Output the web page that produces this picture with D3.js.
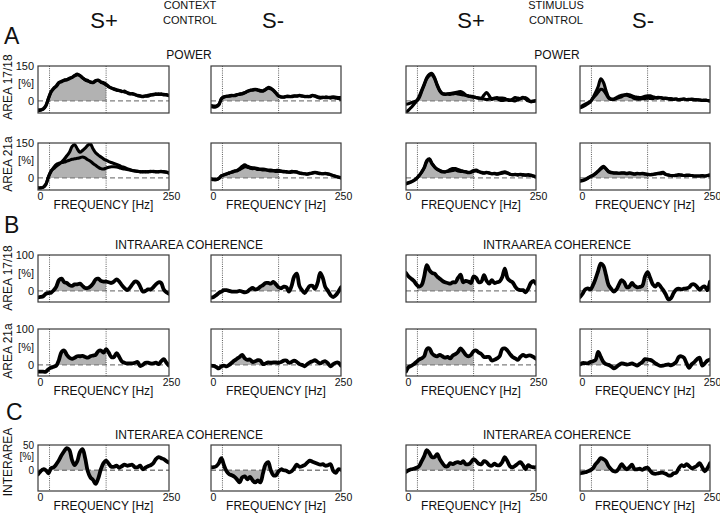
<!DOCTYPE html>
<html><head><meta charset="utf-8">
<script src="https://cdn.jsdelivr.net/npm/d3@7/dist/d3.min.js"></script>
<style>
body{margin:0;background:#fff}
svg{display:block;font-family:"Liberation Sans",Arial,Helvetica,sans-serif}
</style>
</head><body>
<svg id="chart" width="720" height="513"></svg>
<script>
// ---------------- DATA ----------------
const freq = [0,5,10,15,20,25,30,35,40,45,50,55,60,65,70,75,80,85,90,95,100,105,110,115,120,125,130,135,140,145,150,155,160,165,170,175,180,185,190,195,200,205,210,215,220,225,230,235,240,245,250];
const bandLow = 22, bandHigh = 130;

// Power, area 17/18
const powA1718CtxSplusA = [-38,-38,-36,-22,10,38,55,62,78,85,88,92,95,102,110,115,108,100,90,85,82,78,85,90,82,78,72,62,55,52,48,45,40,42,35,30,32,28,22,20,18,22,20,25,28,30,28,30,28,27,24];
const powA1718CtxSplusB = [-42,-40,-34,-20,12,40,52,65,80,82,90,90,98,100,108,112,110,98,92,88,80,80,88,88,80,75,68,60,56,50,46,44,42,38,36,32,30,26,24,22,20,20,24,26,26,28,30,28,26,25,22];
const powA1718CtxSminusA = [-25,-27,-25,-18,10,18,20,20,22,24,27,28,32,36,40,45,48,50,48,45,44,50,58,55,46,35,22,18,17,18,18,20,22,20,24,22,18,20,18,22,20,15,12,14,17,16,12,14,12,10,6];
const powA1718CtxSminusB = [-20,-22,-22,-15,8,16,20,22,24,22,26,30,30,34,42,46,46,48,46,42,42,48,55,52,44,32,20,16,16,20,20,18,20,22,22,20,20,18,20,24,22,18,16,16,14,14,16,18,16,14,15];
const powA1718StimSplusA = [-50,-40,-28,-15,-2,18,45,72,100,114,118,100,70,45,32,30,30,32,34,36,38,40,35,25,22,20,18,15,12,12,25,36,22,6,10,14,12,12,10,4,2,8,14,12,10,12,14,6,-4,-2,0];
const powA1718StimSplusB = [-14,-12,-8,-4,0,12,40,68,95,110,112,95,66,42,30,28,30,28,30,32,30,28,26,24,20,18,16,14,12,10,8,6,8,10,12,10,4,2,4,6,4,2,0,4,10,16,8,0,-2,0,2];
const powA1718StimSminusA = [-30,-26,-20,-12,-4,14,36,62,95,80,45,16,8,6,10,14,18,24,28,26,22,18,16,14,16,20,22,22,18,14,12,14,10,12,10,10,8,8,6,7,8,6,7,8,6,5,4,3,4,2,0];
const powA1718StimSminusB = [-28,-20,-14,-8,-2,12,24,38,50,46,30,12,6,8,14,20,24,26,24,20,16,10,8,8,10,10,12,10,10,14,16,14,12,10,8,6,6,8,4,6,8,5,6,6,4,5,4,2,2,2,0];

// Power, area 21a
const powA21CtxSplusA = [-43,-43,-40,-28,5,30,40,50,58,68,80,95,110,135,142,125,110,118,128,140,146,125,108,98,90,82,76,70,66,62,58,54,48,45,40,36,32,30,28,26,27,26,27,28,27,26,27,28,26,24,20];
const powA21CtxSplusB = [-43,-43,-40,-28,5,28,45,58,63,66,68,72,76,80,82,84,87,90,86,78,72,62,54,46,40,38,42,46,48,48,47,44,40,38,36,34,32,30,28,27,26,27,26,27,28,27,26,27,27,25,21];
const powA21CtxSminusA = [-5,-8,-8,-3,10,12,16,22,24,28,32,40,50,56,50,46,44,42,40,38,38,36,34,34,32,32,33,30,28,27,25,28,27,26,22,20,18,17,20,22,24,22,20,18,20,18,14,10,6,3,0];
const powA21CtxSminusB = [-3,-6,-6,-2,8,14,18,20,26,30,30,36,42,48,46,42,40,40,36,36,34,34,32,30,30,28,28,28,26,25,24,24,26,24,20,18,18,16,18,20,22,20,18,18,18,16,14,10,7,4,1];
const powA21StimSplusA = [-26,-22,-18,-12,-4,8,25,45,75,82,62,48,38,32,28,26,30,36,40,40,36,32,28,26,24,26,32,34,28,24,22,24,22,18,20,18,20,24,26,22,16,14,16,14,16,14,12,14,12,8,4];
const powA21StimSplusB = [-24,-20,-16,-10,-2,10,24,42,70,80,60,46,36,30,26,26,28,30,32,34,30,28,28,26,22,24,28,30,26,22,20,22,20,18,18,16,18,20,22,20,16,14,14,12,14,12,12,12,10,8,5];
const powA21StimSminusA = [-14,-12,-8,-2,6,12,20,30,42,50,40,28,24,22,22,20,22,22,20,22,20,18,20,18,20,18,16,14,16,18,20,22,24,16,12,10,10,12,14,12,10,12,12,10,8,8,8,10,8,10,12];
const powA21StimSminusB = [-12,-10,-6,0,6,10,18,28,38,46,38,26,22,20,20,20,20,20,18,20,18,16,18,18,18,16,14,14,14,16,18,18,20,14,12,10,10,10,12,12,10,10,10,10,8,8,8,8,8,10,12];

// Intraarea coherence
const cohA1718CtxSplus = [-18,-17,-15,-8,-6,-5,2,12,30,34,24,22,16,14,18,18,20,14,8,8,12,20,32,34,28,26,26,24,22,26,32,26,16,8,2,8,18,26,24,12,-2,0,4,4,10,18,24,22,4,-4,-8];
const cohA1718CtxSminus = [-19,-17,-12,-6,-2,2,2,0,-2,-2,-2,0,-2,-4,-2,4,8,4,6,12,16,22,22,20,25,18,10,7,12,10,-2,14,40,48,14,2,-6,4,14,14,6,22,50,36,10,0,-12,-17,-12,-2,10];
const cohA1718StimSplus = [50,40,34,28,18,12,16,40,72,58,50,48,40,34,28,24,22,20,24,24,36,45,24,28,26,22,40,36,24,26,44,28,20,30,22,24,26,38,62,36,28,24,12,4,2,2,-4,6,22,28,20];
const cohA1718StimSminus = [-17,-8,4,7,4,16,34,56,76,70,44,16,6,-2,4,18,30,24,10,12,22,14,10,11,14,40,52,36,18,12,20,12,2,-10,-24,-20,-6,4,6,4,6,7,10,18,18,11,3,10,12,2,26];
const cohA21CtxSplus = [-19,-19,-19,-19,-12,-8,-5,-2,14,36,40,28,20,17,20,24,24,25,22,20,24,26,28,38,40,34,44,34,22,22,33,22,10,6,4,4,4,6,8,-3,0,6,6,4,4,6,2,10,16,6,-2];
const cohA21CtxSminus = [-2,-3,-6,-10,-4,-2,-4,0,6,12,17,22,28,18,14,15,8,10,13,12,2,4,7,6,7,7,6,8,12,12,6,8,12,8,2,0,-4,2,7,10,13,8,4,8,10,4,-4,2,6,6,-2];
const cohA21StimSplus = [-18,-6,-3,2,8,15,18,24,44,46,32,26,24,28,24,20,22,18,26,30,36,46,38,28,24,28,38,40,34,30,22,22,22,12,14,18,24,44,46,40,30,22,18,14,22,28,24,26,26,22,17];
const cohA21StimSminus = [1,5,5,4,8,10,14,36,22,8,2,0,-4,-10,-6,0,4,3,1,2,4,1,-2,3,8,16,15,14,10,4,0,-3,-2,0,1,-1,2,8,22,24,20,4,-8,2,8,16,20,-2,4,12,15];

// Interarea coherence
const interCtxSplus = [-8,-2,2,0,-6,4,6,12,20,30,38,44,40,20,10,18,36,42,24,-2,-14,-19,-27,-16,2,14,19,13,7,7,9,5,8,11,9,10,11,6,6,9,2,5,8,10,14,22,26,24,22,18,15];
const interCtxSminus = [6,6,8,14,24,10,-2,-8,-10,-13,-18,-24,-14,-12,-18,-13,-20,-24,-20,-24,-6,12,16,0,-10,-10,-2,2,0,-1,-4,-2,4,11,7,8,10,15,19,17,15,13,11,12,9,10,12,-1,-5,2,1];
const interStimSplus = [-3,0,2,3,5,8,18,28,40,34,26,26,32,22,14,8,8,14,12,15,16,14,18,12,12,16,22,18,13,12,18,16,10,9,13,10,10,16,26,18,8,6,9,13,16,10,2,10,7,6,6];
const interStimSminus = [-6,-5,-4,-2,0,4,12,18,24,22,18,8,2,-2,-2,4,12,6,2,6,11,2,2,3,1,4,5,-1,-6,-7,-6,-5,-5,-7,-10,-10,-6,-5,4,10,8,12,8,4,6,9,14,6,-2,4,14];

// Axis tick labels
const powerTickValues = [150, 75, 0];
const powerTickText = ["150", "[%]", "0"];
const intraTickValues = [100, 50, 0];
const intraTickText = ["100", "[%]", "0"];
const interTickValues = [50, 27, 0];
const interTickText = ["50", "[%]", "0"];
const freqTickValues = [0, 250];
const freqTickText = ["0", "250"];
const freqLabel = "FREQUENCY [Hz]";

const rowLabels = ["AREA 17/18", "AREA 21a", "AREA 17/18", "AREA 21a", "INTERAREA"];
const sectionLetters = ["A", "B", "C"];
const sectionTitles = ["POWER", "INTRAAREA COHERENCE", "INTERAREA COHERENCE"];
const columnTitles = ["S+", "S-", "S+", "S-"];
const groupTitles = [["CONTEXT","CONTROL"], ["STIMULUS","CONTROL"]];

// ---------------- LAYOUT ----------------
const svg = d3.select("#chart");
const colX = [[38,169],[211,341],[406,536],[580,710]];
const rowY = [[66,113],[143,190],[255,302],[329,376],[445,491]];
const rowDomain = [[-52,150],[-52,150],[-31,100],[-31,100],[-41,50]];
const rowTicks = [[powerTickValues,powerTickText],[powerTickValues,powerTickText],[intraTickValues,intraTickText],[intraTickValues,intraTickText],[interTickValues,interTickText]];
const rowTickFont = [11, 11, 11, 11, 10];
const rowShowX = [false,true,false,true,true];

const panelSeries = [
  [[powA1718CtxSplusA,powA1718CtxSplusB],[powA1718CtxSminusA,powA1718CtxSminusB],[powA1718StimSplusA,powA1718StimSplusB],[powA1718StimSminusA,powA1718StimSminusB]],
  [[powA21CtxSplusA,powA21CtxSplusB],[powA21CtxSminusA,powA21CtxSminusB],[powA21StimSplusA,powA21StimSplusB],[powA21StimSminusA,powA21StimSminusB]],
  [[cohA1718CtxSplus],[cohA1718CtxSminus],[cohA1718StimSplus],[cohA1718StimSminus]],
  [[cohA21CtxSplus],[cohA21CtxSminus],[cohA21StimSplus],[cohA21StimSminus]],
  [[interCtxSplus],[interCtxSminus],[interStimSplus],[interStimSminus]]
];

let clipId = 0;
panelSeries.forEach((rowSeries, r) => {
  rowSeries.forEach((series, c) => {
    const [x0, x1] = colX[c];
    const [y0, y1] = rowY[r];
    const x = d3.scaleLinear().domain([0, 250]).range([x0, x1]);
    const y = d3.scaleLinear().domain(rowDomain[r]).range([y1, y0]);
    const g = svg.append("g");

    const cid = "clip" + (clipId++);
    const bid = "band" + (clipId++);
    svg.append("clipPath").attr("id", cid).append("rect")
      .attr("x", x0).attr("y", y0).attr("width", x1 - x0).attr("height", y1 - y0);
    svg.append("clipPath").attr("id", bid).append("rect")
      .attr("x", x(bandLow)).attr("y", y0).attr("width", x(bandHigh) - x(bandLow)).attr("height", y1 - y0);

    const pts = s => freq.map((f, i) => [f, s[i]]);
    const area = d3.area().x(d => x(d[0])).y0(y(0)).y1(d => y(d[1])).curve(d3.curveCatmullRom.alpha(0.5));
    const line = d3.line().x(d => x(d[0])).y(d => y(d[1])).curve(d3.curveCatmullRom.alpha(0.5));

    g.append("path").attr("clip-path", `url(#${bid})`)
      .attr("d", area(pts(series[0]))).attr("fill", "#b2b2b2");

    g.append("line").attr("x1", x0).attr("x2", x1).attr("y1", y(0)).attr("y2", y(0))
      .attr("stroke", "#808080").attr("stroke-width", 1.3).attr("stroke-dasharray", "5,3");

    [bandLow, bandHigh].forEach(f => {
      g.append("line").attr("x1", x(f)).attr("x2", x(f)).attr("y1", y0).attr("y2", y1)
        .attr("stroke", "#333").attr("stroke-width", 0.8).attr("stroke-dasharray", "1,1.2");
    });

    const lg = g.append("g").attr("clip-path", `url(#${cid})`);
    series.forEach(s => {
      lg.append("path").attr("d", line(pts(s))).attr("fill", "none")
        .attr("stroke", "#000").attr("stroke-width", series.length > 1 ? 3.1 : 3.8)
        .attr("stroke-linejoin", "round").attr("stroke-linecap", "round");
    });

    g.append("rect").attr("x", x0).attr("y", y0).attr("width", x1 - x0).attr("height", y1 - y0)
      .attr("fill", "none").attr("stroke", "#3a3a3a").attr("stroke-width", 1.2);

    if (c === 0) {
      const [tv, tt] = rowTicks[r];
      const ax = d3.axisLeft(y).tickValues(tv).tickSize(0).tickPadding(4)
        .tickFormat((d, i) => tt[i]);
      const ag = g.append("g").attr("transform", `translate(${x0},0)`).call(ax);
      ag.select(".domain").remove();
      ag.selectAll("text").attr("font-size", rowTickFont[r]).attr("fill", "#111")
        .attr("font-family", '"Liberation Sans",Arial,sans-serif');
    }

    if (rowShowX[r]) {
      const ax = d3.axisBottom(x).tickValues(freqTickValues).tickSize(0).tickPadding(3)
        .tickFormat((d, i) => freqTickText[i]);
      const ag = g.append("g").attr("transform", `translate(2,${y1})`).call(ax);
      ag.select(".domain").remove();
      ag.selectAll("text").attr("font-size", 10.5).attr("fill", "#111")
        .attr("font-family", '"Liberation Sans",Arial,sans-serif');
      g.append("text").attr("x", (x0 + x1) / 2).attr("y", y1 + 18.5)
        .attr("text-anchor", "middle").attr("font-size", 12).attr("fill", "#111")
        .text(freqLabel);
    }
  });
});

// Row labels (rotated)
const rowLabelY = [87, 164, 278, 351, 462];
rowLabels.forEach((t, i) => {
  svg.append("text").attr("transform", `translate(11.5,${rowLabelY[i]}) rotate(-90)`)
    .attr("text-anchor", "middle").attr("font-size", 12).attr("fill", "#111").text(t);
});

// Section letters
const letterPos = [[4, 44], [4, 233], [6, 420]];
sectionLetters.forEach((t, i) => {
  svg.append("text").attr("x", letterPos[i][0]).attr("y", letterPos[i][1])
    .attr("font-size", 23).attr("fill", "#111").text(t);
});

// Section titles
const sectionY = [59, 249, 439];
sectionTitles.forEach((t, i) => {
  [189, 557].forEach(cx => {
    svg.append("text").attr("x", cx).attr("y", sectionY[i]).attr("text-anchor", "middle")
      .attr("font-size", 12).attr("fill", "#111").text(t);
  });
});

// Column titles
const colTitleX = [104, 273, 471, 643];
columnTitles.forEach((t, i) => {
  svg.append("text").attr("x", colTitleX[i]).attr("y", 28).attr("text-anchor", "middle")
    .attr("font-size", 22).attr("fill", "#111").text(t);
});
const groupX = [190, 556];
groupTitles.forEach((lines, i) => {
  lines.forEach((t, j) => {
    svg.append("text").attr("x", groupX[i]).attr("y", 9 + j * 14.5).attr("text-anchor", "middle")
      .attr("font-size", 11).attr("fill", "#111").text(t);
  });
});
</script>
</body></html>
